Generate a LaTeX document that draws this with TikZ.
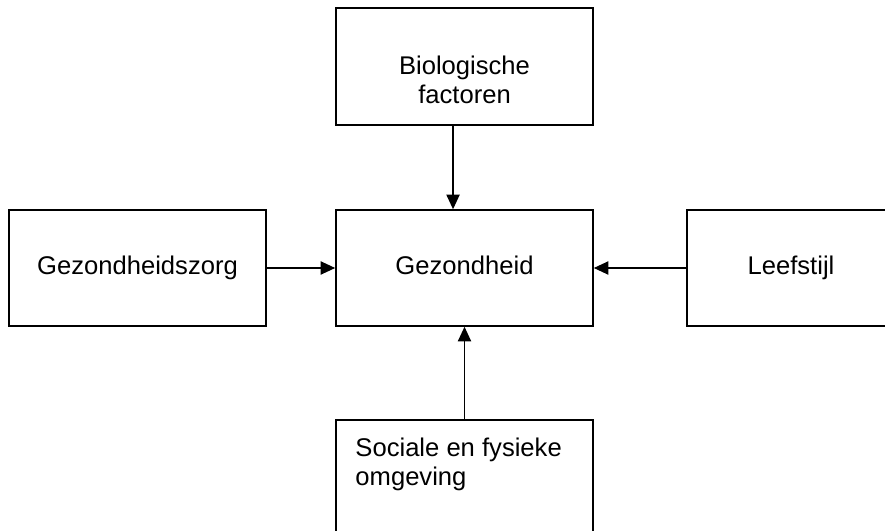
\documentclass[tikz,border=0pt]{standalone}
\usepackage{fontspec}
\setmainfont{Liberation Sans}
\usepackage{tikz}
\usetikzlibrary{
  arrows.meta,
  positioning
}

\begin{document}
\begin{tikzpicture}[
  x=0.75pt, y=-0.75pt,
  factorB/.style={
    draw=black, line width=1.2pt, minimum width=192.75pt, minimum height=87pt,
    inner sep=0pt, font=\fontsize{19.2pt}{22pt}\selectfont,
    text height=14pt, text depth=4pt,
  },
  labelT/.style={
    inner sep=0pt, font=\fontsize{19.2pt}{22pt}\selectfont,
  },
  linkA/.style={-{Triangle[length=11pt,width=10pt]}, line width=1pt},
]
\useasboundingbox (0,0) rectangle (885,531);

% Middle row
\node[factorB] (gez) at (464.5,268) {Gezondheid};
\node[factorB] (zorg) at (137.5,268) {Gezondheidszorg};
\node[factorB, minimum width=156pt] (leef) at (791,268) {Leefstijl};

% Top and bottom
\node[factorB, minimum height=87.75pt] (bio) at (464.5,66.5) {};
\node[labelT, align=center, anchor=north] (biotxt) at ([yshift=-36pt]bio.north) {Biologische\\factoren};

\node[factorB] (omg) at (464.5,478) {};
\node[labelT, align=left, anchor=north west] (omgtxt) at ([xshift=15pt,yshift=-13.5pt]omg.north west) {Sociale en fysieke\\omgeving};

% Arrows
\draw[linkA] ([xshift=-8.6pt]bio.south) -- ([xshift=-8.6pt]gez.north);
\draw[linkA] (zorg.east) -- (gez.west);
\draw[linkA] (leef.west) -- (gez.east);
\draw[linkA] (omg.north) -- (gez.south);

\end{tikzpicture}
\end{document}
